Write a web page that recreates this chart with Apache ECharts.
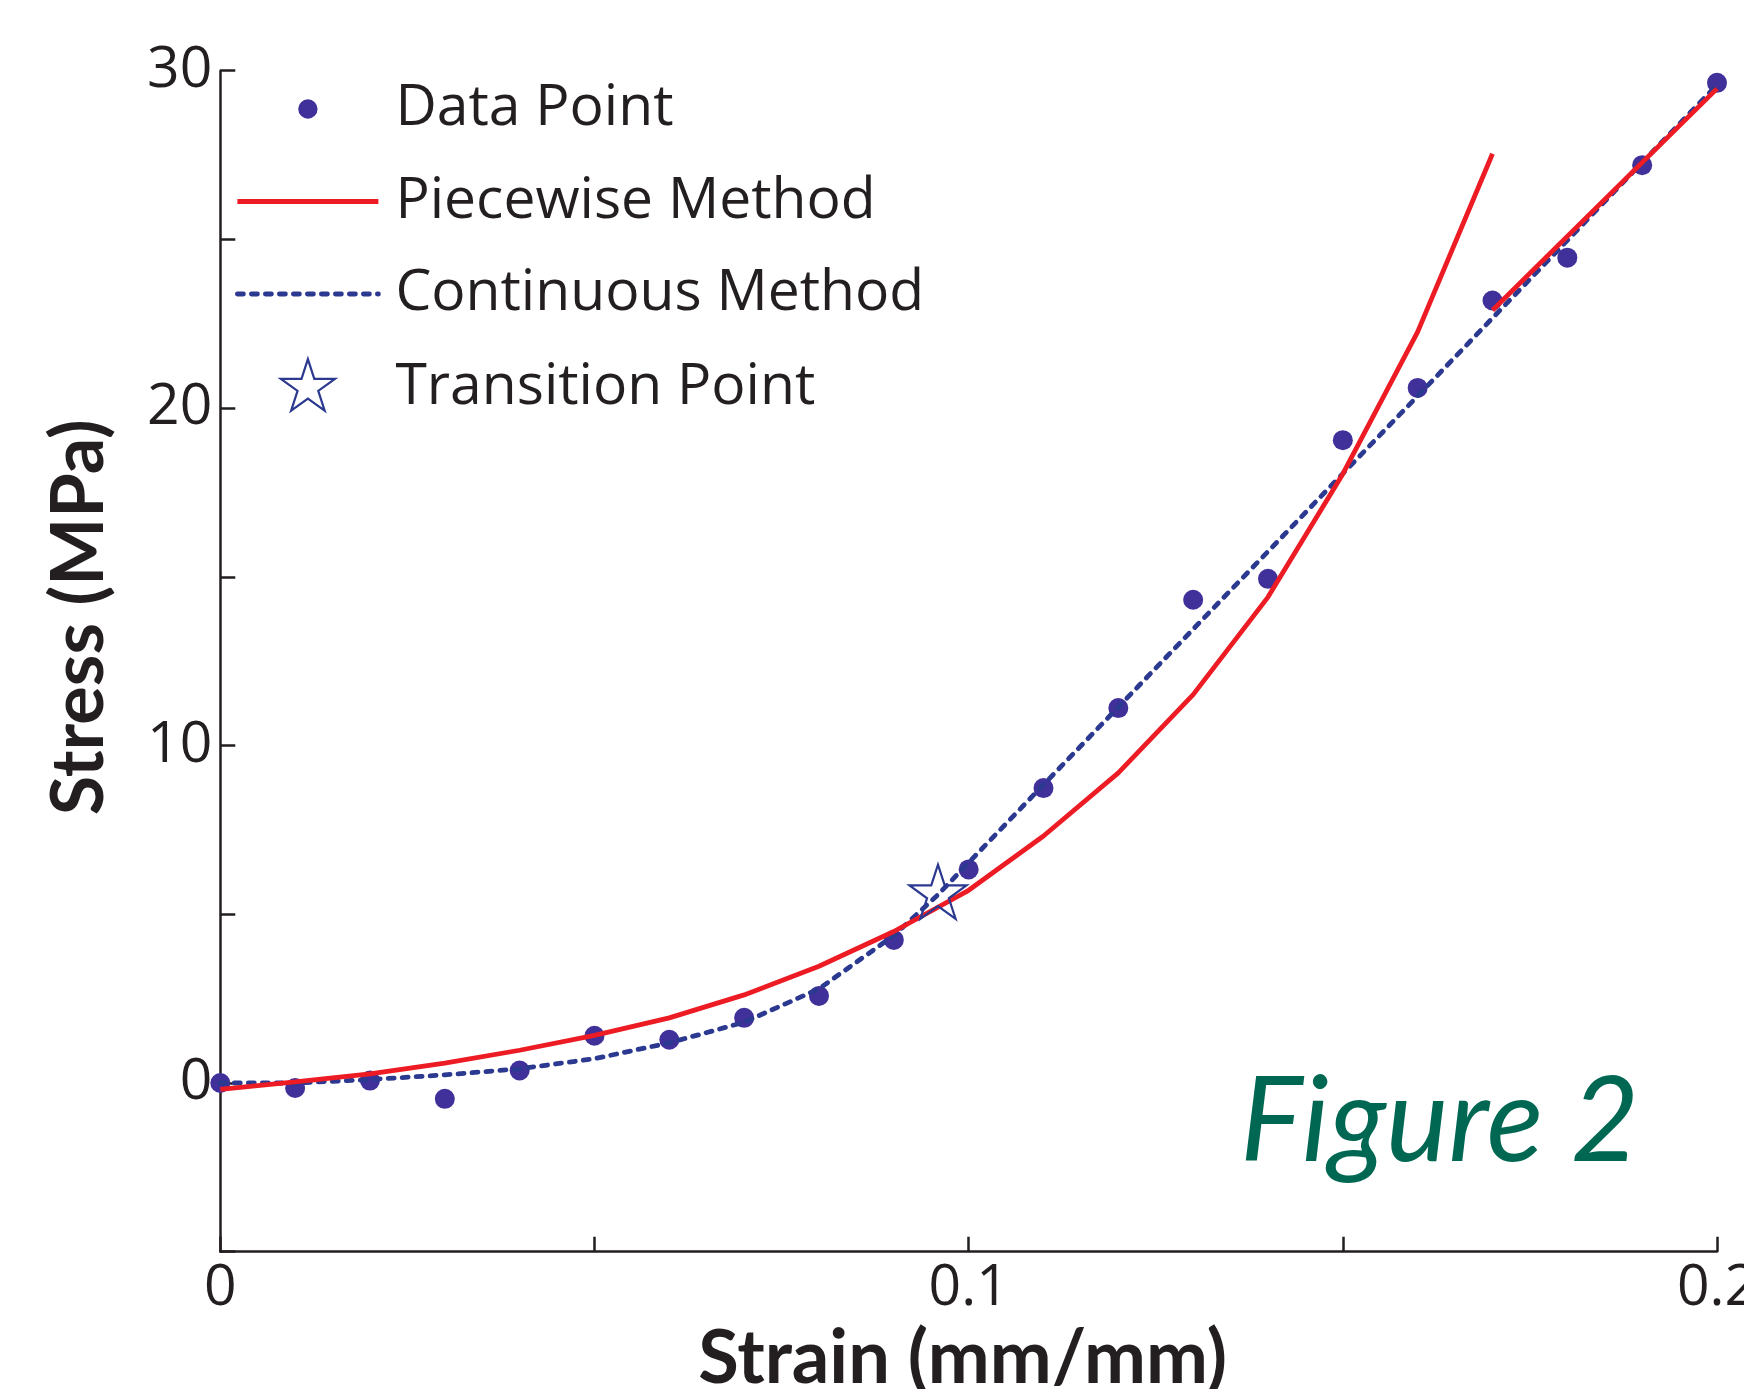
<!DOCTYPE html>
<html>
<head>
<meta charset="utf-8">
<style>
  html, body { margin: 0; padding: 0; background: #fff; }
  #chart { width: 1744px; height: 1389px; }
</style>
<script src="https://cdn.jsdelivr.net/npm/echarts@6/dist/echarts.min.js"></script>
</head>
<body>
<div id="chart"></div>
<script>
// strain values of the measured points (mm/mm)
var pointStrain = [0, 0.01, 0.02, 0.03, 0.04, 0.05, 0.06, 0.07, 0.08, 0.09, 0.10,
  0.11, 0.12, 0.13, 0.14, 0.15, 0.16, 0.17, 0.18, 0.19, 0.20];
// stress of the measured points (MPa)
var pointStress = [0, -0.15, 0.07, -0.47, 0.37, 1.40, 1.28, 1.93, 2.58, 4.24, 6.33,
  8.74, 11.11, 14.32, 14.94, 19.05, 20.6, 23.19, 24.46, 27.2, 29.64];

// piecewise method, first part (polynomial) and second part (linear)
var pieceStrainA = [0, 0.01, 0.02, 0.03, 0.04, 0.05, 0.06, 0.07, 0.08, 0.09, 0.10,
  0.11, 0.12, 0.13, 0.14, 0.15, 0.16, 0.17];
var pieceStressA = [-0.19, 0.03, 0.27, 0.59, 0.97, 1.41, 1.93, 2.61, 3.46, 4.49, 5.71,
  7.32, 9.19, 11.51, 14.40, 18.05, 22.26, 27.54];
var pieceStrainB = [0.17, 0.20];
var pieceStressB = [22.9, 29.47];

// continuous method
var contStrain = [0, 0.01, 0.02, 0.03, 0.04, 0.05, 0.06, 0.07, 0.08, 0.09, 0.0959,
  0.10, 0.11, 0.12, 0.13, 0.14, 0.15, 0.16, 0.17, 0.18, 0.19, 0.20];
var contStress = [0, 0.0, 0.1, 0.24, 0.42, 0.72, 1.19, 1.80, 2.79, 4.37, 5.58,
  6.53, 8.84, 11.14, 13.45, 15.75, 18.06, 20.36, 22.67, 24.97, 27.28, 29.58];

// transition point
var transStrain = [0.0959];
var transStress = [5.58];

var xTickLabels = ['0', '0.1', '0.2'];
var yTickLabels = ['0', '10', '20', '30'];

function zip(a, b) {
  return a.map(function (v, i) { return [v, b[i]]; });
}

var ink = '#231f20';
var red = '#ed1c24';
var blue = '#2b3990';
var dotColor = '#40309a';
var regFont = '"Open Sans", "Noto Sans", sans-serif';
var boldFont = 'Lato, "Open Sans", sans-serif';

var starPath = 'path://M50,100 M50,0 L61.23,34.55 L97.55,34.55 L68.17,55.9 L79.39,90.45 L50,69.1 L20.61,90.45 L31.83,55.9 L2.45,34.55 L38.77,34.55 Z';
// small dot inside a 100x100 box so the legend icon stays small
var dotPath = 'path://M0,0 M100,100 M50,33 A17,17,0,1,1,50,67 A17,17,0,1,1,50,33 Z';

var myChart = echarts.init(document.getElementById('chart'));

var option = {
  animation: false,
  backgroundColor: '#fff',
  grid: {
    left: 220.3, right: 27, top: 70.7, bottom: 137.3,
    containLabel: false, outerBoundsMode: 'none'
  },
  legend: {
    orient: 'vertical',
    left: 235,
    top: 80.5,
    padding: 0,
    itemWidth: 141,
    itemHeight: 57,
    itemGap: 35.5,
    selectedMode: false,
    lineStyle: { width: 4.8 },
    textStyle: {
      fontFamily: regFont, fontSize: 57, color: ink, lineHeight: 57,
      padding: [0, 0, 0, 12]
    },
    data: [
      { name: 'Data Point', icon: dotPath, itemStyle: { color: dotColor, opacity: 1 } },
      { name: 'Piecewise Method', itemStyle: { opacity: 0 } },
      { name: 'Continuous Method', itemStyle: { opacity: 0 } },
      { name: 'Transition Point', icon: starPath,
        itemStyle: { color: 'rgba(0,0,0,0)', borderColor: blue, borderWidth: 2.2, opacity: 1 } }
    ]
  },
  xAxis: {
    type: 'value',
    min: 0,
    max: 0.2,
    interval: 0.05,
    name: 'Strain (mm/mm)',
    nameLocation: 'middle',
    nameGap: 68,
    nameTextStyle: {
      fontFamily: boldFont, fontWeight: 'bold', fontSize: 74, color: ink,
      padding: [0, 12, 0, 0]
    },
    axisLine: { onZero: false, lineStyle: { color: ink, width: 2.5 } },
    axisTick: { inside: true, length: 15, lineStyle: { color: ink, width: 2.5 } },
    splitLine: { show: false },
    axisLabel: {
      margin: 9,
      fontFamily: regFont, fontSize: 57, color: ink,
      formatter: function (v) {
        var s = String(Math.round(v * 10) / 10);
        return (Math.round(v * 100) % 10 === 0 && xTickLabels.indexOf(s) > -1) ? s : '';
      }
    }
  },
  yAxis: {
    type: 'value',
    min: -5,
    max: 30,
    interval: 5,
    name: 'Stress (MPa)',
    nameLocation: 'middle',
    nameGap: 105,
    nameTextStyle: {
      fontFamily: boldFont, fontWeight: 'bold', fontSize: 72, color: ink,
      padding: [0, 0, 0, 88]
    },
    axisLine: { show: true, onZero: false, lineStyle: { color: ink, width: 2.5 } },
    axisTick: { show: true, inside: true, length: 15, lineStyle: { color: ink, width: 2.5 } },
    splitLine: { show: false },
    axisLabel: {
      margin: 8,
      padding: [0, 0, 14, 0],
      fontFamily: regFont, fontSize: 57, color: ink,
      formatter: function (v) {
        return yTickLabels.indexOf(String(v)) > -1 ? String(v) : '';
      }
    }
  },
  series: [
    {
      name: 'Data Point',
      type: 'scatter',
      data: zip(pointStrain, pointStress),
      symbol: 'circle',
      symbolSize: 20,
      itemStyle: { color: dotColor, opacity: 1 },
      z: 2
    },
    {
      name: 'Continuous Method',
      type: 'line',
      data: zip(contStrain, contStress),
      symbol: 'none',
      lineStyle: { color: blue, width: 4.8, type: [6, 8], cap: 'round' },
      z: 3
    },
    {
      name: 'Piecewise Method',
      type: 'line',
      data: zip(pieceStrainA, pieceStressA),
      symbol: 'none',
      lineStyle: { color: red, width: 4.8 },
      z: 4
    },
    {
      name: 'Piecewise Method',
      type: 'line',
      data: zip(pieceStrainB, pieceStressB),
      symbol: 'none',
      lineStyle: { color: red, width: 4.8 },
      z: 4
    },
    {
      name: 'Transition Point',
      type: 'scatter',
      data: zip(transStrain, transStress),
      symbol: starPath,
      symbolSize: 60,
      symbolKeepAspect: true,
      itemStyle: { color: 'rgba(0,0,0,0)', borderColor: blue, borderWidth: 2.2, opacity: 1 },
      z: 5
    }
  ],
  graphic: [
    {
      type: 'text',
      left: 1240,
      top: 1064,
      style: {
        text: 'Figure 2',
        font: 'italic 118px Lato, "Open Sans", sans-serif',
        fill: '#006852'
      }
    }
  ]
};

myChart.setOption(option);
</script>
</body>
</html>
